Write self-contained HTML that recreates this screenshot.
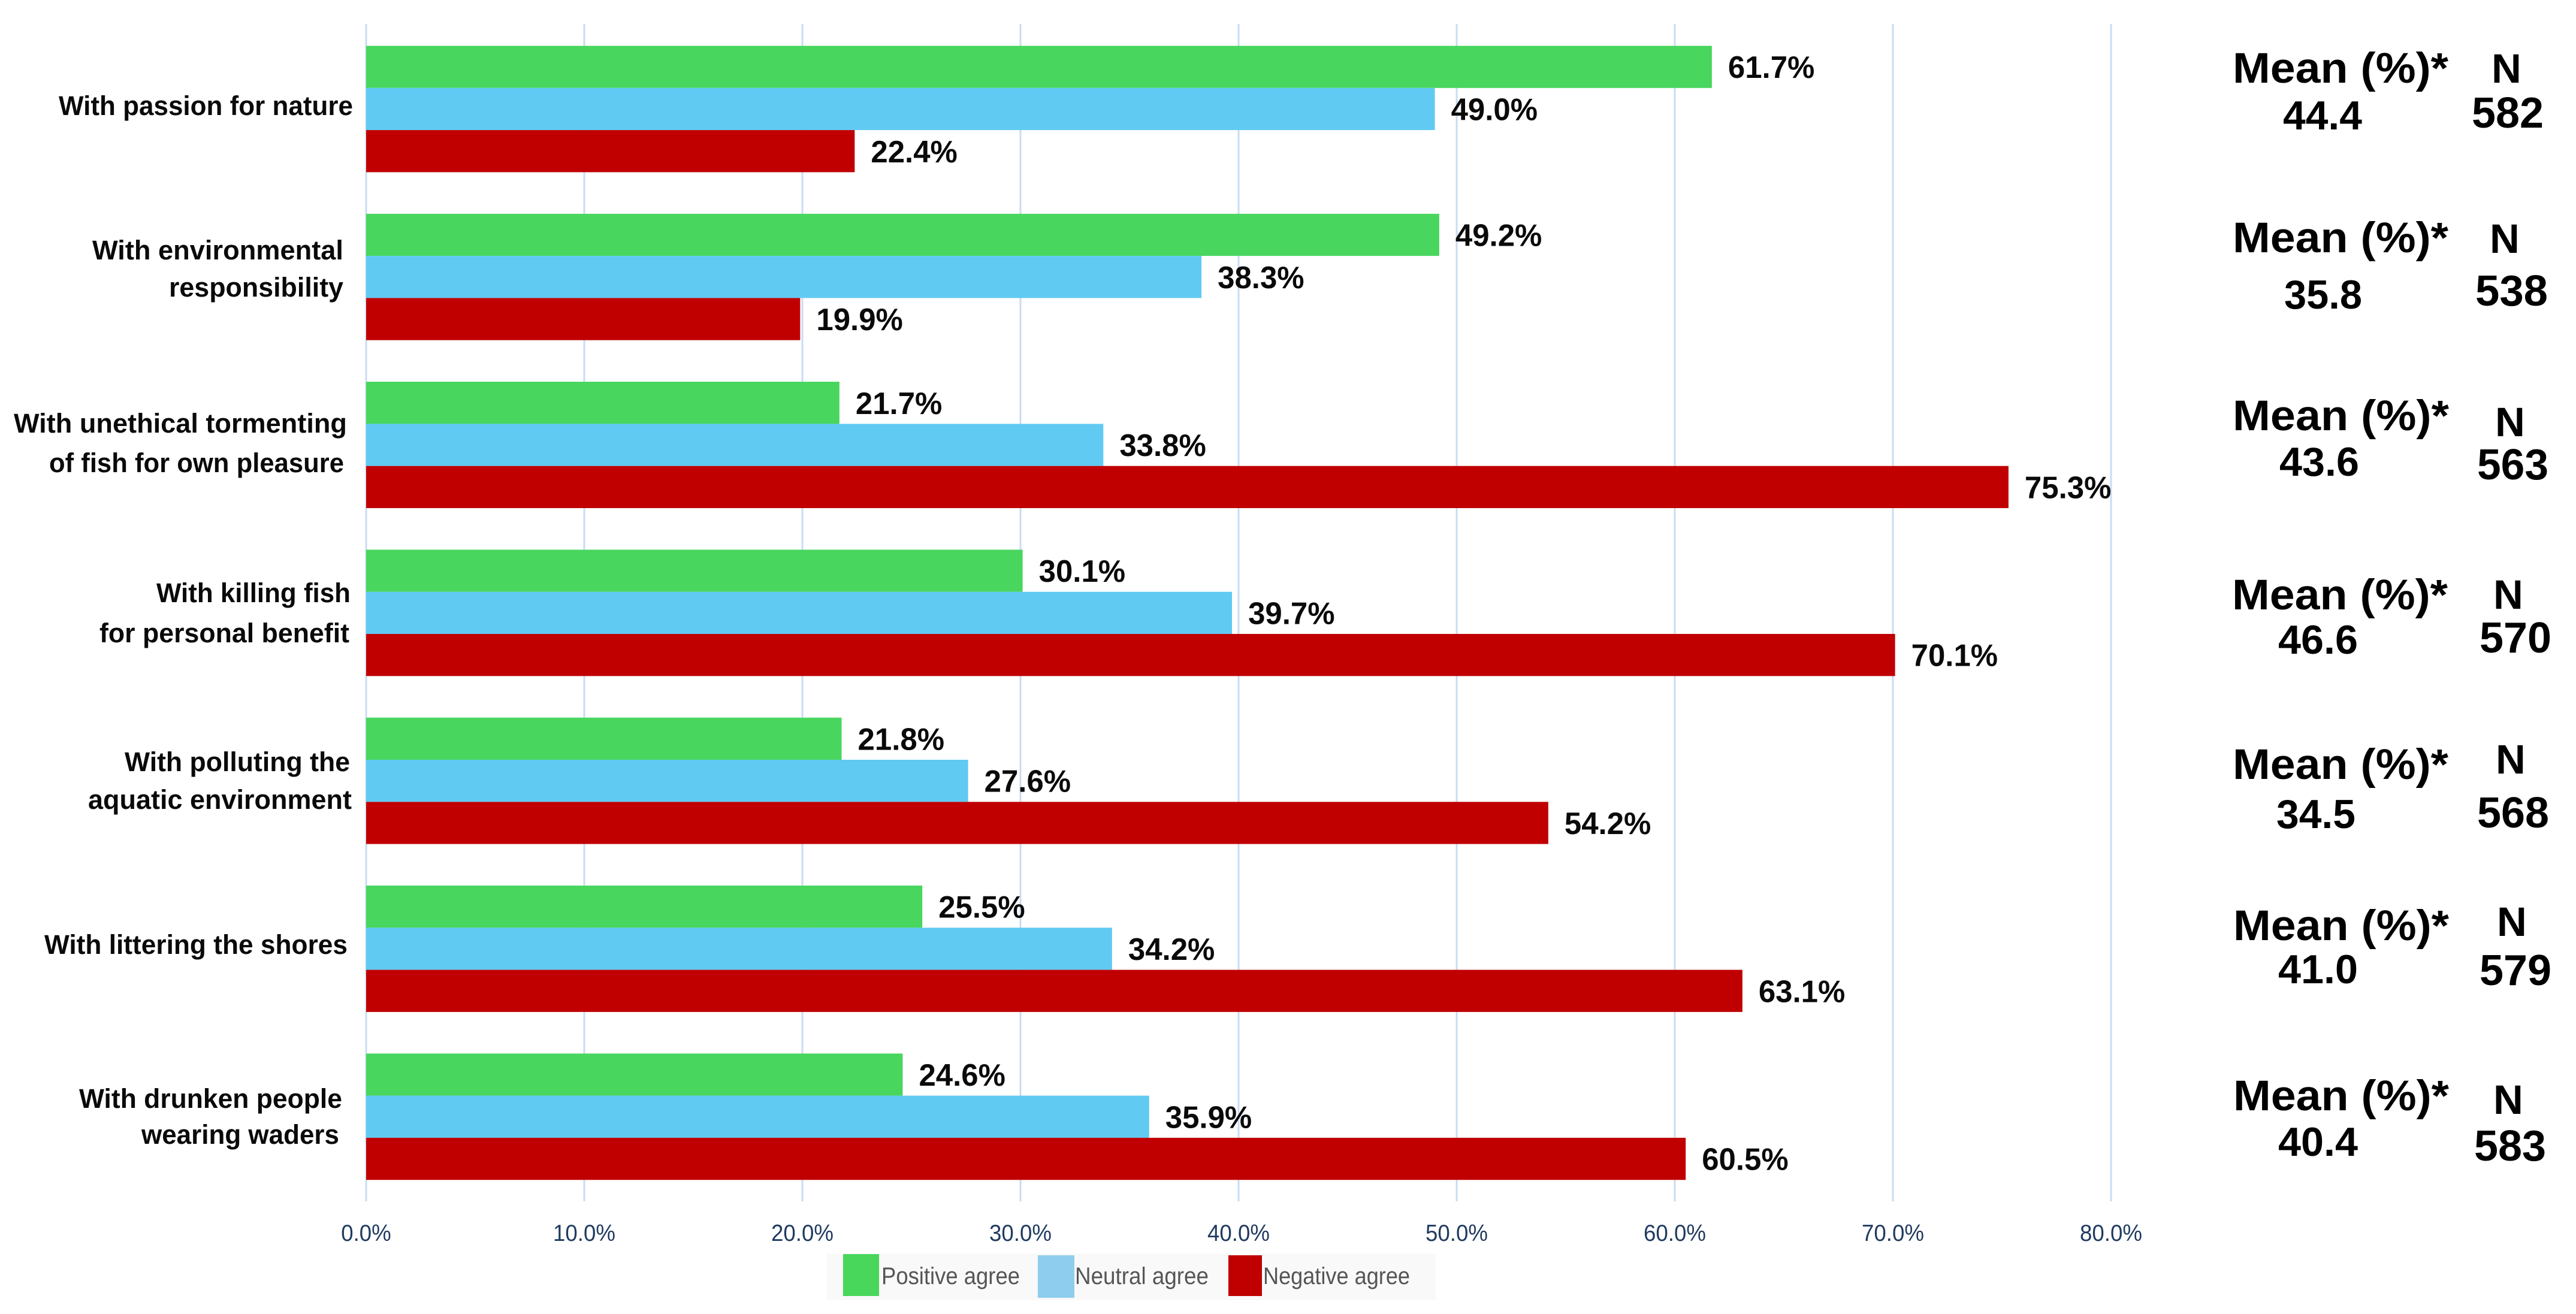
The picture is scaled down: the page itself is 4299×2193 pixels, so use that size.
<!DOCTYPE html>
<html lang="en">
<head>
<meta charset="utf-8">
<title>Agreement chart</title>
<style>
html,body{margin:0;padding:0;background:#fff;width:4299px;height:2193px;overflow:hidden}
svg{display:block}
text{font-family:"Liberation Sans",sans-serif}
.cat{font-size:45px;font-weight:bold;fill:#0a0a0a}
.mean-h{font-size:71px;font-weight:bold;fill:#000}
.mean-v{font-size:68px;font-weight:bold;fill:#000}
.n-h{font-size:69px;font-weight:bold;fill:#000}
.n-v{font-size:72px;font-weight:bold;fill:#000}
.leg{font-size:40px;fill:#555}
</style>
</head>
<body>
<svg id="chart" xmlns="http://www.w3.org/2000/svg" width="4299" height="2193" viewBox="0 0 4299 2193">
  <rect x="0" y="0" width="4299" height="2193" fill="#fff"/>
  <g id="grid"></g>
  <g id="bars"></g>
  <g id="values"></g>
  <g id="ticks"></g>

  <g>
    <text class="cat" x="98" y="192" textLength="491" lengthAdjust="spacingAndGlyphs">With passion for nature</text>
    <text class="cat" x="154" y="433" textLength="419" lengthAdjust="spacingAndGlyphs">With environmental</text>
    <text class="cat" x="282" y="495" textLength="291" lengthAdjust="spacingAndGlyphs">responsibility</text>
    <text class="cat" x="23" y="722" textLength="556" lengthAdjust="spacingAndGlyphs">With unethical tormenting</text>
    <text class="cat" x="82" y="788" textLength="492" lengthAdjust="spacingAndGlyphs">of fish for own pleasure</text>
    <text class="cat" x="261" y="1005" textLength="324" lengthAdjust="spacingAndGlyphs">With killing fish</text>
    <text class="cat" x="166" y="1072" textLength="417" lengthAdjust="spacingAndGlyphs">for personal benefit</text>
    <text class="cat" x="208" y="1287" textLength="376" lengthAdjust="spacingAndGlyphs">With polluting the</text>
    <text class="cat" x="147" y="1350" textLength="440" lengthAdjust="spacingAndGlyphs">aquatic environment</text>
    <text class="cat" x="74" y="1592" textLength="506" lengthAdjust="spacingAndGlyphs">With littering the shores</text>
    <text class="cat" x="132" y="1849" textLength="439" lengthAdjust="spacingAndGlyphs">With drunken people</text>
    <text class="cat" x="236" y="1909" textLength="330" lengthAdjust="spacingAndGlyphs">wearing waders</text>
  </g>

  <g>
    <text class="mean-h" x="3726" y="138" textLength="360" lengthAdjust="spacingAndGlyphs">Mean (%)*</text>
    <text class="mean-v" x="3810" y="216" textLength="132" lengthAdjust="spacingAndGlyphs">44.4</text>
    <text class="n-h" x="4158" y="138">N</text>
    <text class="n-v" x="4125" y="213" textLength="120" lengthAdjust="spacingAndGlyphs">582</text>

    <text class="mean-h" x="3726" y="421" textLength="360" lengthAdjust="spacingAndGlyphs">Mean (%)*</text>
    <text class="mean-v" x="3812" y="515" textLength="130" lengthAdjust="spacingAndGlyphs">35.8</text>
    <text class="n-h" x="4155" y="422">N</text>
    <text class="n-v" x="4131" y="510" textLength="121" lengthAdjust="spacingAndGlyphs">538</text>

    <text class="mean-h" x="3726" y="718" textLength="361" lengthAdjust="spacingAndGlyphs">Mean (%)*</text>
    <text class="mean-v" x="3804" y="794" textLength="133" lengthAdjust="spacingAndGlyphs">43.6</text>
    <text class="n-h" x="4164" y="728">N</text>
    <text class="n-v" x="4134" y="800" textLength="119" lengthAdjust="spacingAndGlyphs">563</text>

    <text class="mean-h" x="3725" y="1017" textLength="360" lengthAdjust="spacingAndGlyphs">Mean (%)*</text>
    <text class="mean-v" x="3802" y="1091" textLength="133" lengthAdjust="spacingAndGlyphs">46.6</text>
    <text class="n-h" x="4161" y="1016">N</text>
    <text class="n-v" x="4138" y="1089" textLength="120" lengthAdjust="spacingAndGlyphs">570</text>

    <text class="mean-h" x="3726" y="1300" textLength="360" lengthAdjust="spacingAndGlyphs">Mean (%)*</text>
    <text class="mean-v" x="3799" y="1382" textLength="132" lengthAdjust="spacingAndGlyphs">34.5</text>
    <text class="n-h" x="4165" y="1291">N</text>
    <text class="n-v" x="4134" y="1381" textLength="120" lengthAdjust="spacingAndGlyphs">568</text>

    <text class="mean-h" x="3727" y="1569" textLength="360" lengthAdjust="spacingAndGlyphs">Mean (%)*</text>
    <text class="mean-v" x="3802" y="1641" textLength="133" lengthAdjust="spacingAndGlyphs">41.0</text>
    <text class="n-h" x="4167" y="1562">N</text>
    <text class="n-v" x="4138" y="1644" textLength="120" lengthAdjust="spacingAndGlyphs">579</text>

    <text class="mean-h" x="3727" y="1853" textLength="360" lengthAdjust="spacingAndGlyphs">Mean (%)*</text>
    <text class="mean-v" x="3802" y="1929" textLength="133" lengthAdjust="spacingAndGlyphs">40.4</text>
    <text class="n-h" x="4161" y="1859">N</text>
    <text class="n-v" x="4129" y="1937" textLength="120" lengthAdjust="spacingAndGlyphs">583</text>
  </g>

  <g>
    <rect x="1380" y="2092" width="1016" height="78" fill="#f9f9f9"/>
    <rect x="1407" y="2093" width="60" height="70" fill="#48d65b"/>
    <text class="leg" x="1471" y="2143" textLength="231" lengthAdjust="spacingAndGlyphs">Positive agree</text>
    <rect x="1732" y="2095" width="61" height="71" fill="#8fcdee"/>
    <text class="leg" x="1794" y="2143" textLength="223" lengthAdjust="spacingAndGlyphs">Neutral agree</text>
    <rect x="2050" y="2095" width="56" height="68" fill="#c00000"/>
    <text class="leg" x="2108" y="2143" textLength="245" lengthAdjust="spacingAndGlyphs">Negative agree</text>
  </g>
</svg>
<script>
const categories = ["With passion for nature","With environmental responsibility","With unethical tormenting of fish for own pleasure","With killing fish for personal benefit","With polluting the aquatic environment","With littering the shores","With drunken people wearing waders"];
const positiveAgree = [61.7,49.2,21.7,30.1,21.8,25.5,24.6];
const neutralAgree = [49.0,38.3,33.8,39.7,27.6,34.2,35.9];
const negativeAgree = [22.4,19.9,75.3,70.1,54.2,63.1,60.5];
const tickValues = [0,10,20,30,40,50,60,70,80];

const NS = "http://www.w3.org/2000/svg";
function xScale(v){ return 611 + v * 36.4; }
function yBand(i){ return 76.5 + i * 280.3; }
const BAR_H = 70.3;
const seriesList = [
  {key:"positive", vals:positiveAgree, color:"#48d65e"},
  {key:"neutral", vals:neutralAgree, color:"#61caf3"},
  {key:"negative", vals:negativeAgree, color:"#c00000"}
];

const gridG = document.getElementById("grid");
const ticksG = document.getElementById("ticks");
const barsG = document.getElementById("bars");
const valuesG = document.getElementById("values");

function condense(el, factor){
  const w = el.getComputedTextLength();
  el.setAttribute("textLength", (w * factor).toFixed(1));
  el.setAttribute("lengthAdjust", "spacingAndGlyphs");
}

tickValues.forEach(function(t){
  const line = document.createElementNS(NS, "line");
  
  
  line.setAttribute("x1", xScale(t));
  line.setAttribute("x2", xScale(t));
  line.setAttribute("y1", 40);
  line.setAttribute("y2", 2005);
  line.setAttribute("stroke", "#c8dcf3");
  line.setAttribute("stroke-width", 3);
  gridG.appendChild(line);

  const lab = document.createElementNS(NS, "text");
  
  
  lab.setAttribute("x", xScale(t));
  lab.setAttribute("y", 2071);
  lab.setAttribute("text-anchor", "middle");
  lab.setAttribute("font-size", 39);
  lab.setAttribute("fill", "#1f3a5f");
  lab.textContent = t.toFixed(1) + "%";
  ticksG.appendChild(lab);
  condense(lab, 0.94);
});

categories.forEach(function(cat, i){
  seriesList.forEach(function(s, j){
    const v = s.vals[i];
    const top = yBand(i) + j * BAR_H;
    const r = document.createElementNS(NS, "rect");
    
    
    r.setAttribute("data-series", s.key);
    r.setAttribute("x", xScale(0));
    r.setAttribute("y", top);
    r.setAttribute("width", xScale(v) - xScale(0));
    r.setAttribute("height", BAR_H);
    r.setAttribute("fill", s.color);
    barsG.appendChild(r);

    const t = document.createElementNS(NS, "text");
    
    
    t.setAttribute("x", xScale(v) + 27);
    t.setAttribute("y", top + BAR_H / 2 + 18.5);
    t.setAttribute("font-size", 52);
    t.setAttribute("font-weight", "bold");
    t.setAttribute("fill", "#0a0a0a");
    t.textContent = v.toFixed(1) + "%";
    valuesG.appendChild(t);
    condense(t, 0.98);
  });
});
</script>
</body>
</html>
